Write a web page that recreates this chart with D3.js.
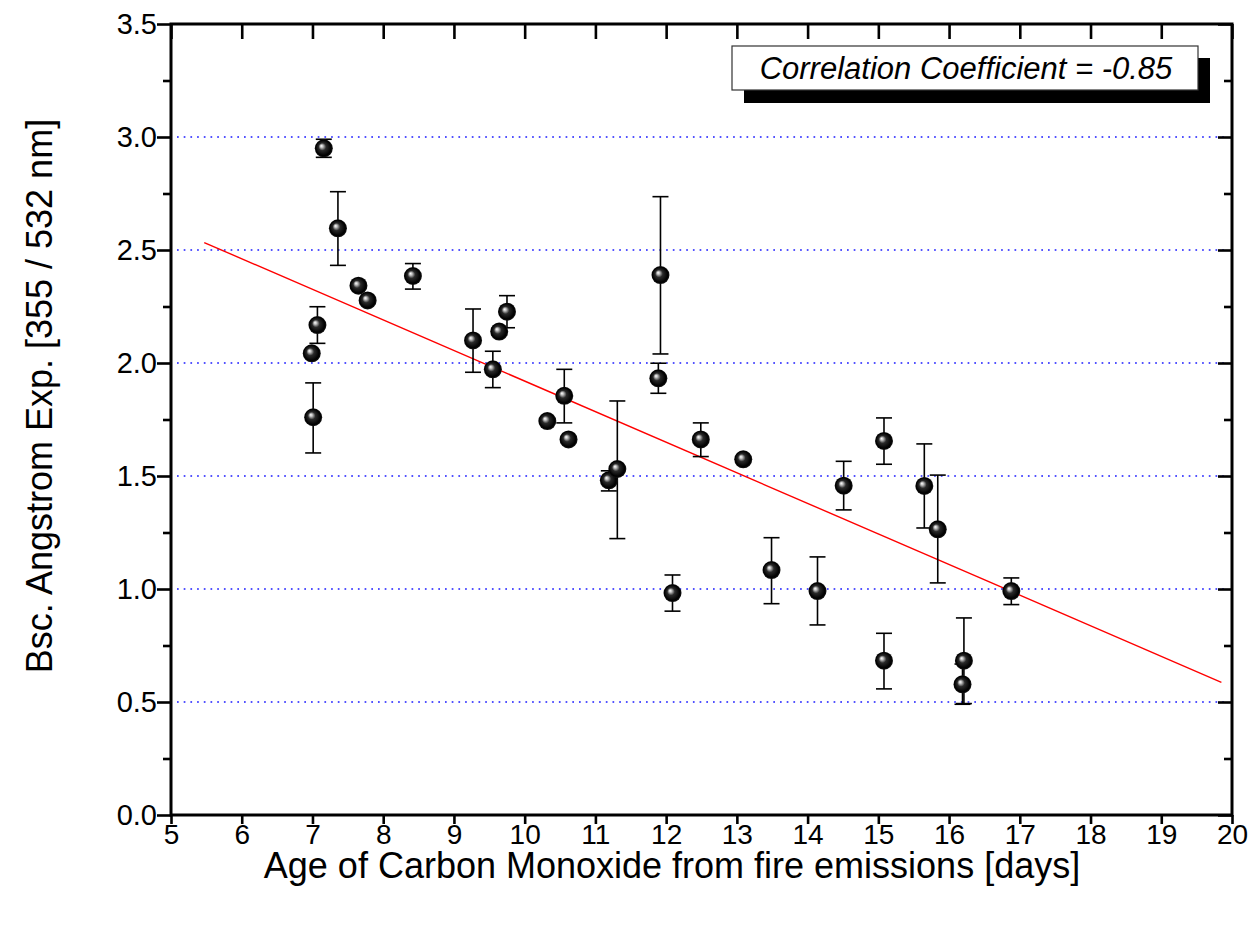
<!DOCTYPE html>
<html>
<head>
<meta charset="utf-8">
<script src="https://cdn.jsdelivr.net/npm/d3@7"></script>
<style>
  html, body { margin: 0; padding: 0; background: #fff; }
  svg { display: block; }
  text { font-family: "Liberation Sans", Arial, sans-serif; }
</style>
</head>
<body>
<svg id="chart" width="1254" height="933"></svg>
<script>
// ---------------- data ----------------
const ageDays   = [7.01, 6.99, 7.07, 7.16, 7.36, 7.65, 7.78, 8.42, 9.27, 9.55, 9.64, 9.75, 10.32, 10.56, 10.62, 11.19,
                   11.31, 11.92, 11.89, 12.09, 12.49, 13.09, 13.49, 14.14, 14.51, 15.08, 15.08, 15.65, 15.84, 16.21, 16.19, 16.88];
const angstrom  = [1.760, 2.043, 2.168, 2.950, 2.596, 2.342, 2.277, 2.385, 2.100, 1.972, 2.139, 2.227, 1.743, 1.855, 1.662, 1.481,
                   1.531, 2.389, 1.932, 0.982, 1.662, 1.574, 1.084, 0.991, 1.457, 1.655, 0.683, 1.456, 1.264, 0.683, 0.578, 0.991];
const errPlus   = [0.152, 0.010, 0.081, 0.040, 0.162, 0.010, 0.010, 0.055, 0.139, 0.080, 0.015, 0.071, 0.010, 0.117, 0.010, 0.042,
                   0.301, 0.347, 0.067, 0.080, 0.073, 0.010, 0.143, 0.151, 0.108, 0.102, 0.121, 0.186, 0.240, 0.189, 0.090, 0.058];
const errMinus  = [0.158, 0.010, 0.081, 0.040, 0.164, 0.010, 0.010, 0.058, 0.141, 0.081, 0.015, 0.071, 0.010, 0.120, 0.010, 0.047,
                   0.308, 0.349, 0.066, 0.080, 0.076, 0.010, 0.149, 0.150, 0.107, 0.103, 0.125, 0.186, 0.237, 0.190, 0.088, 0.060];

// linear fit: y = fitIntercept + fitSlope * x, drawn between fitRange
const fitIntercept = 3.273;
const fitSlope = -0.1353;
const fitRange = [5.47, 19.85];

const xTickValues = [5, 6, 7, 8, 9, 10, 11, 12, 13, 14, 15, 16, 17, 18, 19, 20];
const xTickLabels = ["5", "6", "7", "8", "9", "10", "11", "12", "13", "14", "15", "16", "17", "18", "19", "20"];
const yTickValues = [0, 0.5, 1.0, 1.5, 2.0, 2.5, 3.0, 3.5];
const yTickLabels = ["0.0", "0.5", "1.0", "1.5", "2.0", "2.5", "3.0", "3.5"];
const yMinorValues = [0.25, 0.75, 1.25, 1.75, 2.25, 2.75, 3.25];
const gridValues = [0.5, 1.0, 1.5, 2.0, 2.5, 3.0];

const xTitle = "Age of Carbon Monoxide from fire emissions [days]";
const yTitle = "Bsc. Angstrom Exp. [355 / 532 nm]";
const legendText = "Correlation Coefficient = -0.85";

// ---------------- layout ----------------
const L = 171, R = 1232, T = 24, B = 815;
const svg = d3.select("#chart");
const x = d3.scaleLinear().domain([5, 20]).range([L, R]);
const y = d3.scaleLinear().domain([0, 3.5]).range([B, T]);

// gradient for spheres
const defs = svg.append("defs");
const g = defs.append("radialGradient").attr("id", "ball")
  .attr("cx", "0.5").attr("cy", "0.5").attr("r", "0.5")
  .attr("fx", "0.36").attr("fy", "0.36");
g.append("stop").attr("offset", "0%").attr("stop-color", "#ffffff");
g.append("stop").attr("offset", "16%").attr("stop-color", "#c0c0c0");
g.append("stop").attr("offset", "42%").attr("stop-color", "#2a2a2a");
g.append("stop").attr("offset", "85%").attr("stop-color", "#000000");
g.append("stop").attr("offset", "100%").attr("stop-color", "#151515");

// grid lines
svg.append("g").selectAll("line").data(gridValues).join("line")
  .attr("x1", L + 6).attr("x2", R - 6)
  .attr("y1", d => y(d)).attr("y2", d => y(d))
  .attr("stroke", "#1a1aff").attr("stroke-width", 1.7)
  .attr("stroke-dasharray", "1.7,5");

// fit line
svg.append("line")
  .attr("x1", x(fitRange[0])).attr("y1", y(fitIntercept + fitSlope * fitRange[0]))
  .attr("x2", x(fitRange[1])).attr("y2", y(fitIntercept + fitSlope * fitRange[1]))
  .attr("stroke", "#ff0000").attr("stroke-width", 1.4);

// error bars
const pts = ageDays.map((d, i) => ({x: d, y: angstrom[i], ep: errPlus[i], em: errMinus[i]}));
const eb = svg.append("g").attr("stroke", "#000").attr("stroke-width", 1.6);
pts.forEach(p => {
  const cx = x(p.x), yt = y(p.y + p.ep), yb = y(p.y - p.em);
  eb.append("line").attr("x1", cx).attr("x2", cx).attr("y1", yt).attr("y2", yb);
  eb.append("line").attr("x1", cx - 8).attr("x2", cx + 8).attr("y1", yt).attr("y2", yt);
  eb.append("line").attr("x1", cx - 8).attr("x2", cx + 8).attr("y1", yb).attr("y2", yb);
});

// points
svg.append("g").selectAll("circle").data(pts).join("circle")
  .attr("cx", d => x(d.x)).attr("cy", d => y(d.y)).attr("r", 9)
  .attr("fill", "url(#ball)");

// axes
const bottomAxis = d3.axisBottom(x).tickValues(xTickValues)
  .tickFormat((d, i) => xTickLabels[i]).tickSize(9).tickPadding(0);
const leftAxis = d3.axisLeft(y).tickValues(yTickValues)
  .tickFormat((d, i) => yTickLabels[i]).tickSize(14).tickPadding(0);
const topAxis = d3.axisBottom(x).tickValues(xTickValues).tickFormat("").tickSize(15);
const rightMajor = d3.axisLeft(y).tickValues(yTickValues).tickFormat("").tickSize(14);
const rightMinor = d3.axisLeft(y).tickValues(yMinorValues).tickFormat("").tickSize(8);
const leftMinor = d3.axisLeft(y).tickValues(yMinorValues).tickFormat("").tickSize(8);

function styleAxis(sel, fs) {
  sel.select(".domain").remove();
  sel.selectAll(".tick line").attr("stroke", "#000").attr("stroke-width", 2.6);
  sel.selectAll(".tick text").attr("fill", "#000")
    .style("font-family", '"Liberation Sans", Arial, sans-serif')
    .style("font-size", fs + "px");
}
styleAxis(svg.append("g").attr("transform", `translate(0,${B})`).call(bottomAxis), 28);
styleAxis(svg.append("g").attr("transform", `translate(${L},0)`).call(leftAxis), 29);
styleAxis(svg.append("g").attr("transform", `translate(${L},0)`).call(leftMinor), 29);
styleAxis(svg.append("g").attr("transform", `translate(0,${T})`).call(topAxis), 29);
styleAxis(svg.append("g").attr("transform", `translate(${R},0)`).call(rightMajor), 29);
styleAxis(svg.append("g").attr("transform", `translate(${R},0)`).call(rightMinor), 29);

// frame
svg.append("rect").attr("x", L).attr("y", T).attr("width", R - L).attr("height", B - T)
  .attr("fill", "none").attr("stroke", "#000").attr("stroke-width", 3);

// titles
svg.append("text").attr("x", 672).attr("y", 878).attr("text-anchor", "middle")
  .style("font-size", "36px").attr("fill", "#000").text(xTitle);
svg.append("text").attr("transform", "translate(52,396) rotate(-90)").attr("text-anchor", "middle")
  .style("font-size", "36px").attr("fill", "#000").text(yTitle);

// legend box with shadow
svg.append("rect").attr("x", 744).attr("y", 58).attr("width", 466).attr("height", 45).attr("fill", "#000");
svg.append("rect").attr("x", 732).attr("y", 46).attr("width", 466).attr("height", 44)
  .attr("fill", "#fff").attr("stroke", "#333").attr("stroke-width", 1.2);
svg.append("text").attr("x", 966).attr("y", 79).attr("text-anchor", "middle")
  .style("font-size", "31px").style("font-style", "italic").attr("fill", "#000").text(legendText);
</script>
</body>
</html>
